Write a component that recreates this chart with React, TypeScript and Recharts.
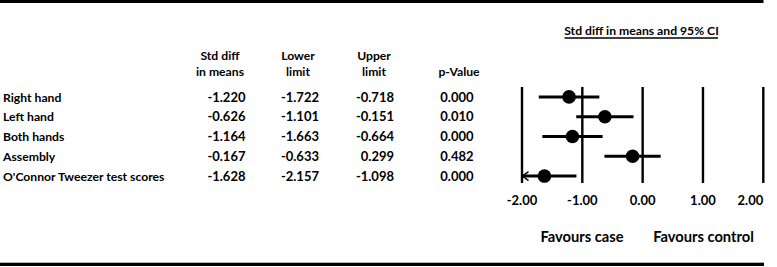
import React from 'react';
import { ScatterChart, Scatter, XAxis, YAxis, ErrorBar, ReferenceLine } from 'recharts';

const outcomes = ['Right hand', 'Left hand', 'Both hands', 'Assembly', "O'Connor Tweezer test scores"];
const stdDiff = [-1.22, -0.626, -1.164, -0.167, -1.628];
const lowerLimit = [-1.722, -1.101, -1.663, -0.633, -2.157];
const upperLimit = [-0.718, -0.151, -0.664, 0.299, -1.098];
const pValue = [0.0, 0.01, 0.0, 0.482, 0.0];
const axisTicks = [-2, -1, 0, 1, 2];
const axisMin = -2;
const axisMax = 2;
const plotTitle = 'Std diff in means and 95% CI';
const favoursLeft = 'Favours case';
const favoursRight = 'Favours control';

const rows = outcomes.map((name, i) => {
  const lo = Math.max(lowerLimit[i], axisMin);
  const hi = Math.min(upperLimit[i], axisMax);
  return { row: i, name, mean: stdDiff[i], err: [stdDiff[i] - lo, hi - stdDiff[i]] };
});
const clippedLow = outcomes
  .map((name, i) => ({ row: i, mean: axisMin, clipped: lowerLimit[i] < axisMin }))
  .filter((d) => d.clipped);

const FONT = 'Lato, "DejaVu Sans", sans-serif';
const FS_NUM = 13;
const FS_TXT = 12.2;
const FS_FAV = 14.7;

const Dot = (p: any) => <circle cx={p.cx} cy={p.cy} r={6.8} fill="#000" />;
const Arrow = (p: any) => (
  <path d={`M${p.cx + 6.5},${p.cy - 4.5} L${p.cx + 0.5},${p.cy} L${p.cx + 6.5},${p.cy + 4.5}`} stroke="#000" strokeWidth={1.4} fill="none" />
);
const Tick = (p: any) => {
  const last = p.payload.value === axisMax;
  return (
    <text x={p.x} y={p.y} dy="0.71em" textAnchor={last ? 'end' : 'middle'} fontFamily={FONT} fontWeight={700} fontSize={FS_NUM} fill="#000">
      {Number(p.payload.value).toFixed(2)}
    </text>
  );
};

const rowY = (i: number) => 101.5 + 19.75 * i;

export default function App() {
  const base = { fontFamily: FONT, fontWeight: 700, fill: '#000' } as const;
  const txt = { ...base, fontSize: FS_TXT };
  const num = { ...base, fontSize: FS_NUM };
  const fav = { ...base, fontSize: FS_FAV };
  return (
    <div style={{ position: 'absolute', left: 0, top: 0, width: 777, height: 267, background: '#fff' }}>
      <ScatterChart width={777} height={267} margin={{ top: 87, right: 13.7, bottom: 54, left: 522 }}>
        <XAxis
          type="number"
          dataKey="mean"
          domain={[axisMin, axisMax]}
          ticks={axisTicks}
          allowDataOverflow
          axisLine={false}
          tickLine={false}
          height={30}
          tickMargin={7}
          tick={<Tick />}
        />
        <YAxis type="number" dataKey="row" domain={[-0.5, 4.35]} reversed hide />
        {axisTicks.map((t) => (
          <ReferenceLine key={t} x={t} stroke="#000" strokeWidth={2.4} />
        ))}
        <Scatter data={rows} shape={<Dot />} isAnimationActive={false}>
          <ErrorBar dataKey="err" direction="x" width={0} stroke="#000" strokeWidth={3} />
        </Scatter>
        <Scatter data={clippedLow} shape={<Arrow />} isAnimationActive={false} />
      </ScatterChart>
      <svg width={777} height={267} style={{ position: 'absolute', left: 0, top: 0, pointerEvents: 'none' }}>
        <rect x={0} y={0} width={763.5} height={3} fill="#000" />
        <rect x={0} y={262.7} width={764} height={3.3} fill="#000" />
        <text x={641.5} y={35} textAnchor="middle" {...txt}>{plotTitle}</text>
        <line x1={564.5} x2={718} y1={38} y2={38} stroke="#000" strokeWidth={1.3} />
        <text x={220} y={60} textAnchor="middle" {...txt}>Std diff</text>
        <text x={220} y={76} textAnchor="middle" {...txt}>in means</text>
        <text x={298} y={60} textAnchor="middle" {...txt}>Lower</text>
        <text x={298} y={76} textAnchor="middle" {...txt}>limit</text>
        <text x={374} y={60} textAnchor="middle" {...txt}>Upper</text>
        <text x={374} y={76} textAnchor="middle" {...txt}>limit</text>
        <text x={459} y={76} textAnchor="middle" {...txt}>p-Value</text>
        {outcomes.map((name, i) => (
          <g key={name}>
            <text x={3} y={rowY(i)} {...txt}>{name}</text>
            <text x={245.5} y={rowY(i)} textAnchor="end" {...num}>{stdDiff[i].toFixed(3)}</text>
            <text x={319} y={rowY(i)} textAnchor="end" {...num}>{lowerLimit[i].toFixed(3)}</text>
            <text x={394} y={rowY(i)} textAnchor="end" {...num}>{upperLimit[i].toFixed(3)}</text>
            <text x={473.5} y={rowY(i)} textAnchor="end" {...num}>{pValue[i].toFixed(3)}</text>
          </g>
        ))}
        <text x={582} y={242} textAnchor="middle" {...fav}>{favoursLeft}</text>
        <text x={703.5} y={242} textAnchor="middle" {...fav}>{favoursRight}</text>
      </svg>
    </div>
  );
}
